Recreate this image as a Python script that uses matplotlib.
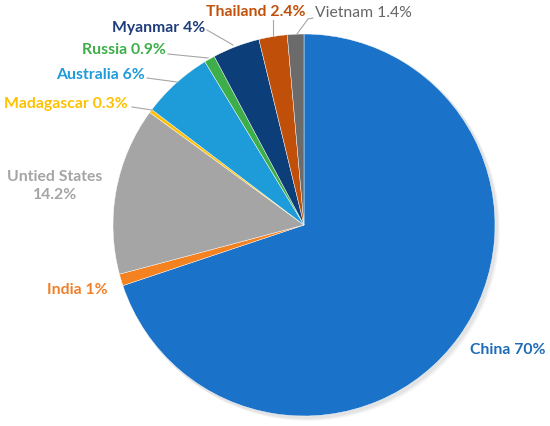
import matplotlib
matplotlib.use("Agg")
import matplotlib.pyplot as plt
from matplotlib.patches import Circle

countries = ["China", "India", "Untied States", "Madagascar", "Australia",
             "Russia", "Myanmar", "Thailand", "Vietnam"]
shares = [70, 1, 14.2, 0.3, 6, 0.9, 4, 2.4, 1.4]
share_text = ["70%", "1%", "14.2%", "0.3%", "6%", "0.9%", "4%", "2.4%", "1.4%"]
slice_colors = ["#1A73C9", "#F58220", "#A5A5A5", "#FFC000", "#1E9BD9",
                "#3DAE49", "#0C3F7A", "#C04F0A", "#6B6B6B"]
label_colors = ["#1E6CB8", "#F0802A", "#A5A5A5", "#FFC000", "#1E9BD9",
                "#3DAE49", "#1F3D7A", "#C0500A", "#666666"]

W, H = 550, 426
fig = plt.figure(figsize=(5.5, 4.26), dpi=100)
ax = fig.add_axes([0, 0, 1, 1])
ax.set_xlim(0, W)
ax.set_ylim(0, H)
ax.set_aspect("equal")
ax.axis("off")

cx, cy, r = 304, H - 225, 191

# soft shadow
for i, a in enumerate([0.10, 0.08, 0.06]):
    ax.add_patch(Circle((cx + 2 + i, cy - 2 - i), r + 1, color="#888888",
                        alpha=a, lw=0, zorder=0))

ax.pie(shares, colors=slice_colors, startangle=90, counterclock=False,
       center=(cx, cy), radius=r, frame=True,
       wedgeprops=dict(linewidth=0.3, edgecolor="white"))
ax.set_xlim(0, W)
ax.set_ylim(0, H)
ax.axis("off")

font = dict(family=["Lato", "DejaVu Sans"], fontsize=11.3)

# label placement: (text x, text y, ha, leader line points or None)
layout = {
    "China": (470, 350, "left", None),
    "India": (47, 290, "left", None),
    "Untied States": (55, 186, "center", None),
    "Madagascar": (128, 104, "right", [(132, 107), (152, 110)]),
    "Australia": (145, 75, "right", [(147, 78), (177, 82)]),
    "Russia": (166, 50, "right", [(168, 54), (208, 58)]),
    "Myanmar": (205, 28, "right", [(207, 30), (233, 45)]),
    "Thailand": (306, 12, "right", [(273, 20), (273, 36)]),
    "Vietnam": (315, 13, "left", [(313, 18), (308, 19), (297, 34)]),
}

for name, txt, col in zip(countries, share_text, label_colors):
    x, y, ha, line = layout[name]
    weight = "normal" if name == "Vietnam" else "bold"
    if name == "Untied States":
        s = f"{name}\n{txt}"
        ax.text(x, H - y, s, ha="center", va="center", color=col,
                linespacing=1.35, fontweight=weight, **font)
    else:
        s = f"{name} {txt}"
        ax.text(x, H - y, s, ha=ha, va="center", color=col,
                fontweight=weight, **font)
    if line:
        xs = [p[0] for p in line]
        ys = [H - p[1] for p in line]
        ax.plot(xs, ys, color="#A6A6A6", lw=0.8, zorder=5)

fig.savefig("out.png", dpi=100)
